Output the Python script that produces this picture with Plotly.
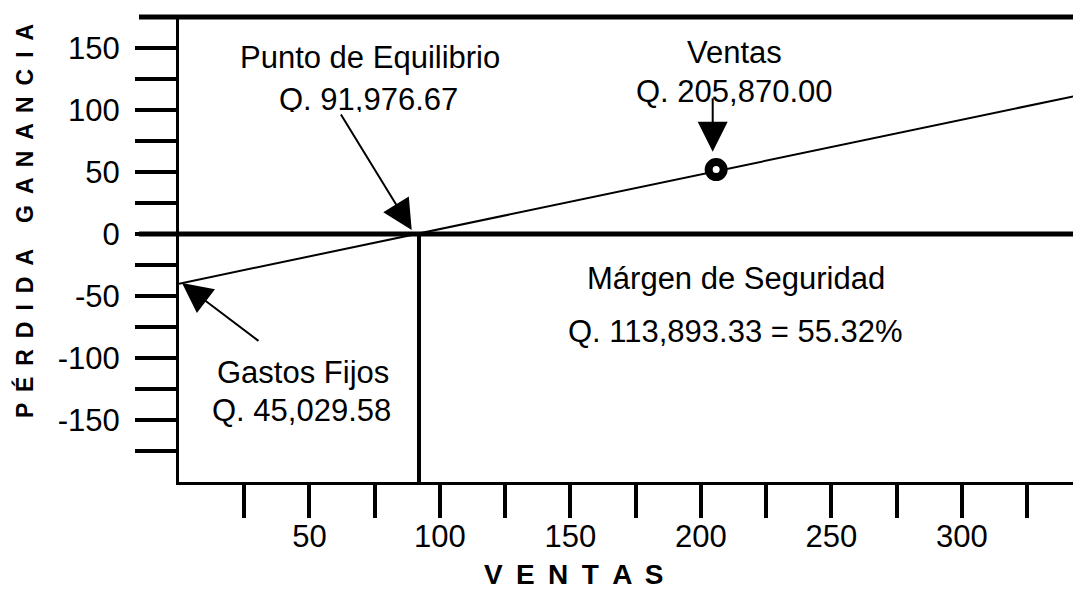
import plotly.graph_objects as go

# ---- data (values in thousands of Q) ----
ventas_linea = [0, 345.7]
resultado_linea = [-40.1, 112.3]
punto_equilibrio = 91.98
ventas_actual = [205.87]
resultado_actual = [52]

x_major = [50, 100, 150, 200, 250, 300]
x_minor = [25, 75, 125, 175, 225, 275, 325]
y_major = [-150, -100, -50, 0, 50, 100, 150]
y_minor = [-175, -125, -75, -25, 25, 75, 125]
x_range = [0, 345.7]
y_range = [-200, 175]

FONT = "Liberation Sans, Arial, sans-serif"
OFF = 8  # page body margin in the browser
W_FIG, H_FIG = 1081 - OFF, 589 - OFF
L_REF, T_REF = 179, 17
PW, PH = 1081 - L_REF, 465


def px(xp):
    return (xp - L_REF) / PW


def py(yp):
    return (T_REF + PH - yp) / PH


def yv(v):
    return (v - y_range[0]) / (y_range[1] - y_range[0])


fig = go.Figure()
fig.add_trace(go.Scatter(x=ventas_linea, y=resultado_linea, mode="lines",
                         line=dict(color="black", width=2), hoverinfo="skip",
                         showlegend=False))
fig.add_trace(go.Scatter(x=ventas_actual, y=resultado_actual, mode="markers",
                         marker=dict(symbol="circle", size=15, color="white",
                                     line=dict(color="black", width=8)),
                         hoverinfo="skip", showlegend=False, cliponaxis=False))

shapes = [
    dict(type="line", xref="paper", yref="paper", x0=px(139), x1=1.0,
         y0=yv(175), y1=yv(175), line=dict(color="black", width=5)),
    dict(type="line", xref="paper", yref="paper", x0=px(139), x1=1.0,
         y0=yv(0), y1=yv(0), line=dict(color="black", width=5)),
    dict(type="line", xref="x", yref="paper", x0=punto_equilibrio, x1=punto_equilibrio,
         y0=0, y1=yv(0), line=dict(color="black", width=4)),
]

ann = []


def txt(s, xp, yp, size=31, bold=False, angle=0):
    ann.append(dict(text=s, xref="paper", yref="paper", x=px(xp), y=py(yp),
                    xanchor="center", yanchor="middle", showarrow=False,
                    textangle=angle,
                    font=dict(family=FONT, size=size, color="black",
                              weight="bold" if bold else "normal")))


def arrow(x_tip, y_tip, x_tail, y_tail):
    ann.append(dict(text="", xref="paper", yref="paper", x=px(x_tip), y=py(y_tip),
                    ax=x_tail - x_tip, ay=y_tail - y_tip, axref="pixel", ayref="pixel",
                    showarrow=True, arrowhead=2, arrowsize=3, arrowwidth=2,
                    arrowcolor="black"))


txt("Punto de Equilibrio", 370, 58)
txt("Q. 91,976.67", 368, 99)
txt("Ventas", 734, 52)
txt("Q. 205,870.00", 734, 91)
txt("Márgen de Seguridad", 736, 278)
txt("Q. 113,893.33 = 55.32%", 735, 331)
txt("Gastos Fijos", 303, 372)
txt("Q. 45,029.58", 301, 410)

# white strip that hides the lower edge of "Q. 91,976.67" as in the original
ann.append(dict(text=" ", xref="paper", yref="paper", x=px(368), y=py(112.5),
                xanchor="center", yanchor="top", showarrow=False,
                width=180, height=12, bgcolor="white", borderpad=0, borderwidth=0,
                font=dict(family=FONT, size=8)))

sp = " \u2009"
txt(sp.join("VENTAS"), 573, 574, size=28, bold=True)
txt(sp.join("GANANCIA"), 25, 124, size=23, bold=True, angle=-90)
txt(sp.join("PÉRDIDA"), 25, 334, size=23, bold=True, angle=-90)

arrow(411.7, 230, 340, 113)
arrow(712.7, 151.7, 712.7, 96.7)
arrow(182, 283, 260, 342)

fig.update_layout(
    width=W_FIG, height=H_FIG,
    margin=dict(l=L_REF - OFF, r=0, t=T_REF - OFF, b=H_FIG - (T_REF - OFF) - PH, pad=0),
    paper_bgcolor="white", plot_bgcolor="white",
    font=dict(family=FONT, size=31, color="black"),
    shapes=shapes, annotations=ann,
    xaxis=dict(range=x_range, showgrid=False, zeroline=False,
               showline=True, linecolor="black", linewidth=3,
               tickmode="array", tickvals=x_major, ticktext=[str(v) for v in x_major],
               ticks="outside", ticklen=33, tickwidth=3.5, tickcolor="black",
               ticklabelstandoff=-8,
               minor=dict(tickmode="array", tickvals=x_minor, ticks="outside",
                          ticklen=33, tickwidth=3.5, tickcolor="black", showgrid=False),
               tickfont=dict(family=FONT, size=31, color="black")),
    yaxis=dict(range=y_range, showgrid=False, zeroline=False,
               showline=True, linecolor="black", linewidth=3,
               tickmode="array", tickvals=y_major, ticktext=[str(v) for v in y_major],
               ticks="outside", ticklen=41, tickwidth=3.5, tickcolor="black",
               ticklabelstandoff=9,
               minor=dict(tickmode="array", tickvals=y_minor, ticks="outside",
                          ticklen=41, tickwidth=3.5, tickcolor="black", showgrid=False),
               tickfont=dict(family=FONT, size=31, color="black")),
)

fig.write_html("out.html")
